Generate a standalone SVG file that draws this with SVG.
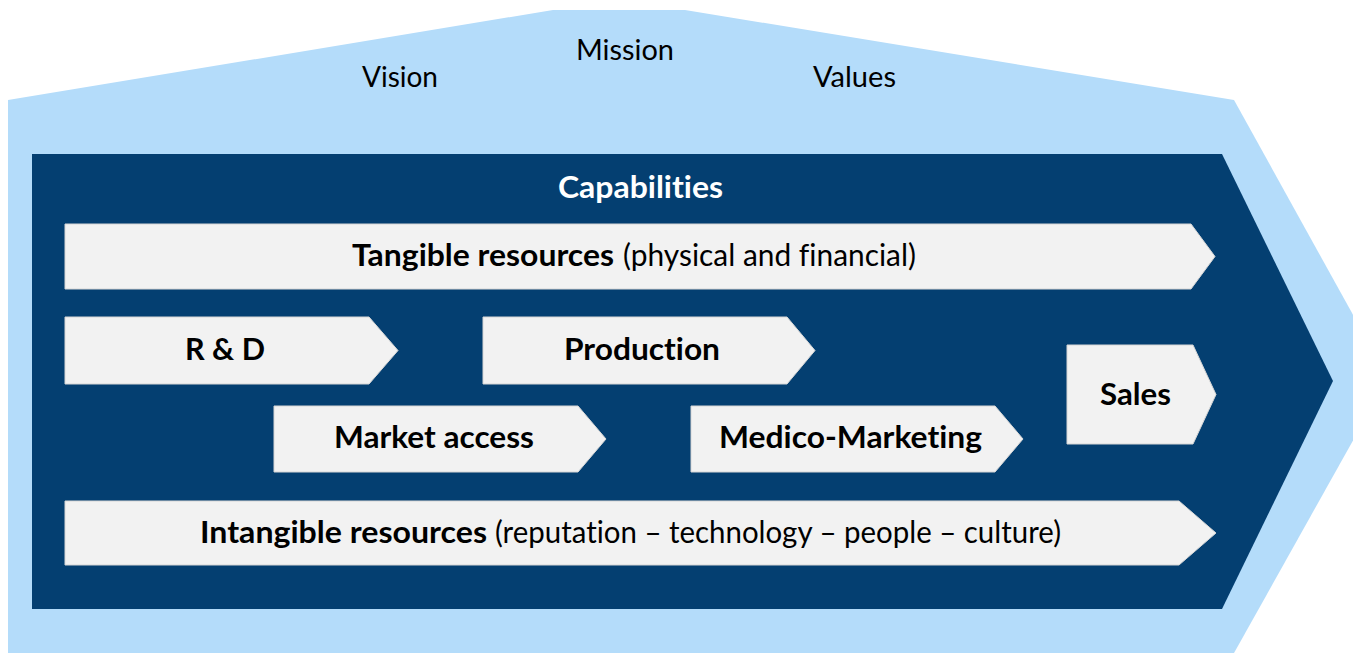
<svg xmlns="http://www.w3.org/2000/svg" width="1353" height="653" viewBox="0 0 1353 653">
<style>
text{font-variant-ligatures:none;font-feature-settings:"liga" 0,"clig" 0}
.light{fill:#B4DCFA}
.navy{fill:#043F71}
.bar{fill:#F2F2F2;stroke:#D6D6D6;stroke-width:1}
.b{font-family:Lato,"Open Sans","Liberation Sans",sans-serif;font-weight:700;font-size:31px;fill:#000}
.r{font-family:Lato,"Open Sans","Liberation Sans",sans-serif;font-weight:400;font-size:31px;fill:#000}
.top{font-family:Lato,"Open Sans","Liberation Sans",sans-serif;font-weight:400;font-size:28px;fill:#000}
.w{fill:#FFFFFF}
</style>
<rect width="1353" height="653" fill="#FFFFFF"/>
<g id="house">
<polygon class="light" points="8,100 553,10 685,10 1234,100"/>
<polygon class="light" points="8,100 1234,100 1388,378 1234,653 8,653"/>
<text class="top" x="362" y="87" textLength="76" lengthAdjust="spacingAndGlyphs">Vision</text>
<text class="top" x="576" y="60" textLength="98" lengthAdjust="spacingAndGlyphs">Mission</text>
<text class="top" x="813" y="87" textLength="83" lengthAdjust="spacingAndGlyphs">Values</text>
</g>
<g id="capabilities">
<polygon class="navy" points="32,154 1222,154 1333,381 1222,609 32,609"/>
<text class="b w" x="558" y="198" textLength="165" lengthAdjust="spacingAndGlyphs">Capabilities</text>
</g>
<g id="tangible">
<polygon class="bar" points="65,224 1191,224 1215,256.5 1191,289 65,289"/>
<text class="b" x="352" y="266" textLength="262" lengthAdjust="spacingAndGlyphs">Tangible resources</text>
<text class="r" x="623" y="266" textLength="293" lengthAdjust="spacingAndGlyphs">(physical and financial)</text>
</g>
<g id="rd">
<polygon class="bar" points="65,317 369,317 398,350.5 369,384 65,384"/>
<text class="b" x="185" y="360" textLength="80" lengthAdjust="spacingAndGlyphs">R &amp; D</text>
</g>
<g id="production">
<polygon class="bar" points="483,317 787,317 815,350.5 787,384 483,384"/>
<text class="b" x="564" y="360" textLength="156" lengthAdjust="spacingAndGlyphs">Production</text>
</g>
<g id="market-access">
<polygon class="bar" points="274,406 578,406 606,439 578,472 274,472"/>
<text class="b" x="334" y="448" textLength="200" lengthAdjust="spacingAndGlyphs">Market access</text>
</g>
<g id="medico-marketing">
<polygon class="bar" points="691,406 995,406 1023,439 995,472 691,472"/>
<text class="b" x="719" y="448" textLength="263" lengthAdjust="spacingAndGlyphs">Medico-Marketing</text>
</g>
<g id="sales">
<polygon class="bar" points="1067,345 1193,345 1216,394.5 1193,444 1067,444"/>
<text class="b" x="1100" y="405" textLength="71" lengthAdjust="spacingAndGlyphs">Sales</text>
</g>
<g id="intangible">
<polygon class="bar" points="65,501 1179,501 1216,533 1179,565 65,565"/>
<text class="b" x="200" y="543" textLength="287" lengthAdjust="spacingAndGlyphs">Intangible resources</text>
<text class="r" x="495" y="543" textLength="566" lengthAdjust="spacingAndGlyphs">(reputation – technology – people – culture)</text>
</g>
<g id="connectors"/>
</svg>
